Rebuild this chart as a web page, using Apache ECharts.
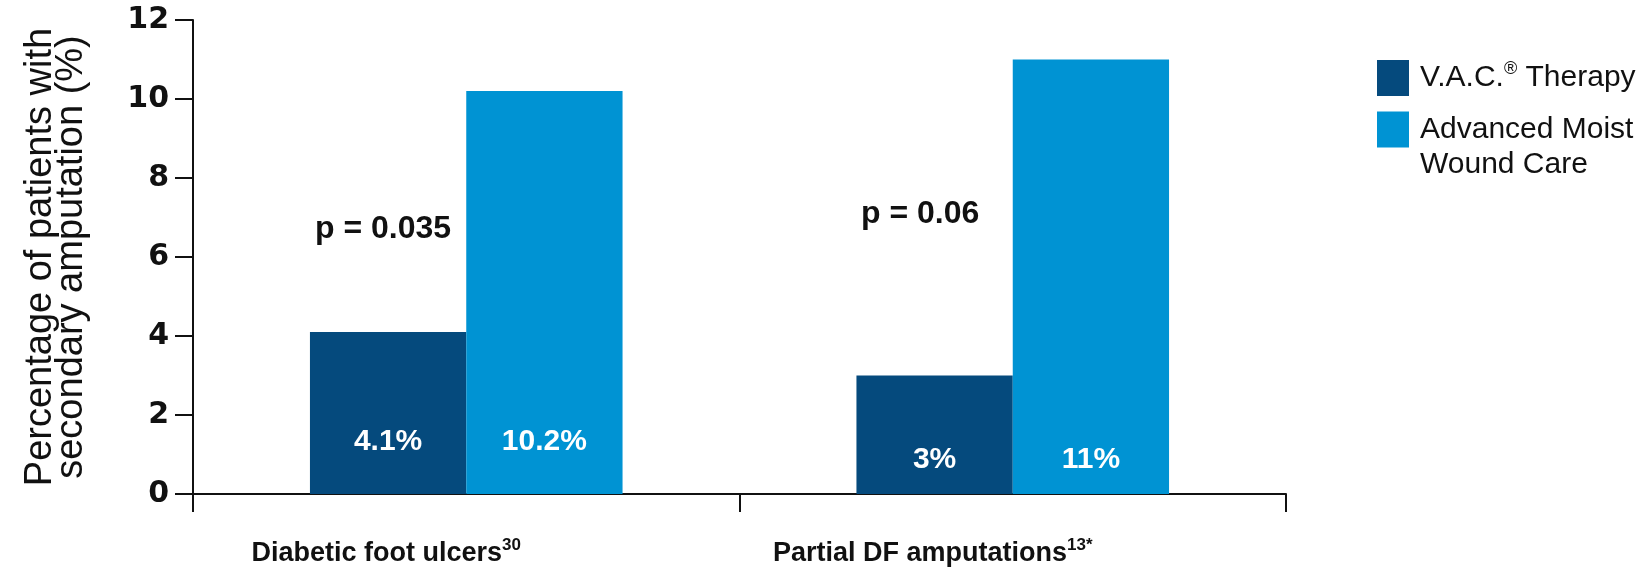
<!DOCTYPE html>
<html>
<head>
<meta charset="utf-8">
<script src="https://cdn.jsdelivr.net/npm/echarts@6/dist/echarts.min.js"></script>
<style>
html,body{margin:0;padding:0;background:#fff;}
#chart{width:1648px;height:568px;}
</style>
</head>
<body>
<div id="chart"></div>
<script>
const categories = ['Diabetic foot ulcers', 'Partial DF amputations'];
const categorySups = ['30', '13*'];
const vacValues = [4.1, 3];
const amwcValues = [10.2, 11];
const pValues = ['p = 0.035', 'p = 0.06'];
const seriesNames = ['V.A.C.® Therapy', 'Advanced Moist\nWound Care'];
const yTicks = [0, 2, 4, 6, 8, 10, 12];
const yTitle = 'Percentage of patients with\nsecondary amputation (%)';

const DARK = '#054a7d';
const LIGHT = '#0093d3';
const labelDist = [37, 19];

const chart = echarts.init(document.getElementById('chart'));
const sans = '"Liberation Sans", Arial, sans-serif';

function barData(vals){
  return vals.map((v,i)=>({value:v, label:{distance:labelDist[i]}}));
}

chart.setOption({
  animation:false,
  backgroundColor:'#fff',
  grid:{left:193, right:362, top:20, bottom:74, containLabel:false},
  legend:{
    orient:'vertical', left:1372, top:55,
    itemWidth:32, itemHeight:36, itemGap:-19,
    icon:'rect',
    data:[
      {name:seriesNames[0], textStyle:{padding:[0,0,0,6]}},
      {name:seriesNames[1], textStyle:{padding:[35,0,0,6]}}
    ],
    formatter:function(n){ return n.replace('®','{sup|®}'); },
    textStyle:{
      fontFamily:sans,
      fontSize:30, color:'#111', lineHeight:35,
      rich:{sup:{fontFamily:sans, fontSize:18, verticalAlign:'top', lineHeight:35, padding:[0,0,12,0], color:'#111'}}
    }
  },
  xAxis:{
    type:'category', data:categories,
    axisLine:{lineStyle:{color:'#111', width:2}},
    axisTick:{show:true, length:18, lineStyle:{color:'#111', width:2}},
    axisLabel:{
      margin:43, color:'#111',
      formatter:function(v, i){ return '{b|'+v+'}{s|'+categorySups[i]+'}{pad|}'; },
      rich:{
        b:{fontFamily:sans, fontWeight:'bold', fontSize:27, color:'#111', lineHeight:34},
        s:{fontFamily:sans, fontWeight:'bold', fontSize:17, color:'#111', verticalAlign:'top', lineHeight:34, padding:[0,0,12,0]},
        pad:{width:160, lineHeight:34}
      }
    }
  },
  yAxis:{
    type:'value', min:yTicks[0], max:yTicks[yTicks.length-1], interval:yTicks[1]-yTicks[0],
    name:yTitle, nameLocation:'middle', nameGap:106, nameRotate:90,
    nameTextStyle:{fontFamily:sans, fontSize:38, color:'#111', lineHeight:31, align:'center'},
    axisLine:{show:true, lineStyle:{color:'#111', width:2}},
    axisTick:{show:true, length:18, lineStyle:{color:'#111', width:2}},
    splitLine:{show:false},
    axisLabel:{margin:24, color:'#111', fontFamily:'"DejaVu Sans", sans-serif', fontWeight:'bold', fontSize:30}
  },
  series:[
    {
      name:seriesNames[0], type:'bar', data:barData(vacValues),
      barWidth:'28.6%', barGap:'0%', barCategoryGap:'42.8%',
      itemStyle:{color:DARK},
      label:{show:true, position:'insideBottom', color:'#fff', fontFamily:sans, fontWeight:'bold', fontSize:30,
        formatter:p=>p.value+'%'}
    },
    {
      name:seriesNames[1], type:'bar', data:barData(amwcValues),
      barWidth:'28.6%',
      itemStyle:{color:LIGHT},
      label:{show:true, position:'insideBottom', color:'#fff', fontFamily:sans, fontWeight:'bold', fontSize:30,
        formatter:p=>p.value+'%'}
    }
  ],
  graphic:[
    {type:'text', left:315, top:213, style:{text:pValues[0], fontFamily:sans, fontWeight:'bold', fontSize:32, fill:'#111'}},
    {type:'text', left:861, top:198, style:{text:pValues[1], fontFamily:sans, fontWeight:'bold', fontSize:32, fill:'#111'}}
  ]
});
</script>
</body>
</html>
